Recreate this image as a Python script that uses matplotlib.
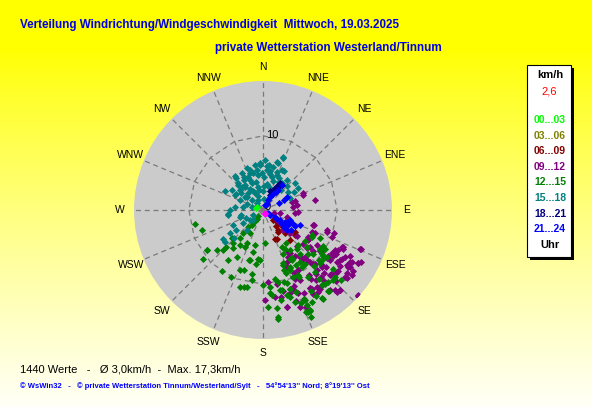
import numpy as np
import matplotlib.pyplot as plt
from matplotlib.patches import Rectangle

# wind direction (deg, N=0, clockwise) and speed (km/h), grouped by time of day
teal_dir = [2, 356, 21, 16, 13, 5, 342, 345, 330, 320, 317, 324, 337, 347, 1, 11, 20, 25, 45, 59, 50,
            21, 18, 356, 7, 350, 351, 358, 10, 21, 28, 20, 35, 38, 54, 58, 67, 339, 330, 320, 327,
            336, 337, 349, 322, 315, 303, 296, 298, 308, 319, 334, 311, 294, 264, 257, 335, 1, 8, 286,
            270, 277, 262, 254, 236, 243, 233, 235, 230, 232, 219, 243, 226, 234,
            300, 320, 340, 310, 290, 350, 5, 280, 245, 225,
            15, 3, 352, 328, 333, 312, 305, 26, 30, 42, 14, 6, 340, 318, 301]
teal_spd = [6.8, 6.3, 7.5, 6.8, 6.0, 5.9, 5.7, 5.1, 5.2, 5.6, 4.9, 4.2, 4.4, 3.9, 4.5, 5.0, 5.5, 6.0, 4.5, 4.8, 5.6,
            7.6, 6.6, 6.1, 6.1, 6.2, 5.5, 5.0, 5.3, 5.1, 5.9, 4.1, 4.4, 5.2, 4.2, 5.6, 4.0, 6.0, 5.7, 5.9, 4.8,
            4.9, 3.9, 3.2, 4.0, 4.7, 5.0, 5.7, 4.3, 3.7, 3.0, 2.5, 2.0, 3.4, 4.7, 3.0, 1.5, 2.5, 3.6, 1.6,
            4.5, 3.8, 4.7, 3.2, 3.2, 4.5, 4.5, 5.5, 6.7, 2.2, 3.5, 1.5, 5.5, 6.6,
            1.0, 1.2, 2.0, 2.8, 2.3, 2.8, 1.5, 2.7, 2.5, 2.0,
            4.6, 3.3, 4.8, 3.4, 2.9, 4.1, 3.0, 4.8, 4.3, 3.6, 3.2, 5.4, 5.3, 4.2, 4.2]

navy_dir = [32, 30, 21, 37, 25, 34, 28]
navy_spd = [4.3, 3.7, 2.7, 4.2, 2.2, 3.9, 3.2]

blue_dir = [22, 28, 28, 32, 37, 37, 61, 64, 66, 35, 30,
            125, 119, 120, 118, 121, 115, 112, 129, 130, 110, 123, 127, 117, 125, 122, 116, 114]
blue_spd = [0.7, 1.5, 2.0, 2.6, 3.4, 4.2, 3.7, 3.1, 2.3, 3.0, 1.0,
            1.2, 1.9, 2.7, 3.4, 4.0, 4.3, 5.4, 3.6, 4.2, 3.9, 2.3, 3.0, 4.8, 4.6, 0.8, 3.6, 4.5]

maroon_dir = [122, 134, 143, 154, 137, 129, 124, 157, 145, 130, 140, 138, 128]
maroon_spd = [0.9, 1.9, 3.4, 4.3, 4.3, 3.2, 5.2, 4.2, 3.6, 2.5, 2.8, 5.4, 5.5]

purple_dir = [70, 79, 84, 107, 109, 108, 115, 112, 118, 119, 123, 122, 127, 126, 128, 130, 137, 139,
              137, 138, 136, 132, 134, 136, 140, 143, 149, 154, 156, 160, 162, 166, 169, 176, 179, 168,
              159, 152, 154, 157, 148, 142, 128, 131, 135, 128, 106, 108, 126, 121, 123, 132, 127, 124,
              67, 82, 93, 75, 121, 114, 111, 119, 115, 120, 120, 118, 124, 129, 133, 134, 139, 143,
              148, 146, 138, 129, 155, 150, 142, 152, 172, 166, 101, 96, 75,
              106, 107, 114, 124, 123, 129, 131, 125, 125, 123, 118, 116, 122, 125, 127, 132, 133, 136,
              138, 138, 141, 145, 149, 155, 150, 145, 145, 140, 139, 134, 131, 126, 123, 121, 126, 129,
              119, 112, 161, 158, 157, 149, 149, 145, 144, 138, 136, 132, 166, 159, 155]
purple_spd = [5.8, 7.2, 4.1, 7.1, 9.1, 10.0, 11.9, 14.2, 13.3, 14.7, 12.4, 11.0, 10.8, 9.5, 8.1, 7.1, 6.7, 9.0,
              9.9, 10.9, 11.8, 12.8, 13.7, 15.0, 14.1, 12.9, 12.2, 12.5, 14.3, 13.0, 11.8, 11.2, 10.1, 9.7, 12.2, 12.0,
              11.6, 10.7, 9.5, 8.3, 6.9, 8.0, 5.8, 4.8, 3.9, 2.9, 3.3, 1.5, 2.3, 11.5, 14.0, 17.3, 14.2, 14.7,
              5.9, 4.6, 4.7, 4.1, 7.1, 7.7, 10.0, 11.1, 11.7, 12.7, 13.9, 14.9, 13.8, 13.0, 12.6, 11.0, 12.6, 11.8,
              12.5, 13.3, 14.5, 14.3, 10.2, 9.4, 8.5, 7.2, 11.8, 13.5, 2.3, 4.3, 4.5,
              7.1, 9.0, 7.2, 7.3, 8.7, 8.7, 7.9, 9.7, 10.7, 11.3, 11.5, 12.0, 12.5, 12.2, 11.3, 11.5, 10.9, 10.1,
              9.4, 8.5, 7.9, 7.5, 6.6, 7.7, 9.4, 10.7, 11.3, 11.2, 12.0, 12.6, 13.0, 12.9, 13.5, 13.7, 14.9, 14.5,
              14.7, 14.1, 11.2, 11.1, 12.2, 12.3, 13.2, 12.7, 13.1, 14.9, 15.0, 17.2, 13.5, 14.0, 13.2]

green_dir = [258, 252, 235, 231, 214, 206, 201, 194, 189, 187, 183, 196, 209, 215, 225, 229, 218, 213,
             206, 193, 177, 193, 225, 228, 219, 186, 190, 180, 175, 174, 177, 172, 172, 169, 163, 161,
             162, 168, 168, 170, 161, 156, 159, 156, 140, 130, 131, 125, 130, 138, 146, 155, 155, 149,
             142, 152, 146, 145, 155, 151, 175, 117, 127, 121, 126, 133, 134, 146, 152, 140, 141, 140,
             141, 155, 156, 146, 135, 150, 153, 155, 139, 172, 156, 157, 235, 197, 192, 198, 195,
             217, 220, 222, 215, 220, 219, 222, 209, 206,
             126, 119, 116, 135, 150, 149, 160, 155, 149, 144, 142, 132, 124, 122, 127, 130, 133, 132,
             138, 141, 141, 160, 156, 164, 158, 164, 167, 158, 152, 148, 146, 155, 155, 161]
green_spd = [9.4, 8.7, 9.3, 10.4, 10.0, 10.0, 8.7, 10.7, 9.6, 7.3, 6.8, 7.0, 7.2, 8.2, 7.6, 8.3, 6.5, 5.7,
             5.0, 4.9, 4.5, 5.8, 7.0, 5.7, 4.9, 6.6, 8.7, 10.1, 10.4, 11.5, 13.1, 14.6, 13.4, 12.4, 12.3, 11.2,
             10.4, 11.1, 9.9, 9.4, 8.6, 8.9, 7.7, 9.9, 7.7, 7.7, 9.0, 9.4, 10.4, 10.2, 10.9, 13.4, 14.9, 12.7,
             12.9, 10.0, 6.5, 5.5, 6.5, 7.5, 11.3, 7.4, 9.9, 9.5, 10.7, 10.5, 8.5, 9.3, 10.2, 10.9, 11.9, 13.0,
             14.1, 13.2, 15.0, 14.3, 13.4, 7.8, 5.6, 8.7, 6.9, 14.8, 15.8, 15.0, 9.3, 10.8, 10.6, 8.5, 7.0,
             2.5, 4.1, 6.0, 1.4, 1.1, 2.0, 3.0, 3.6, 5.5,
             7.0, 7.5, 8.6, 6.7, 6.0, 7.6, 7.9, 8.5, 8.7, 8.6, 9.2, 10.1, 9.3, 9.9, 10.2, 12.3, 13.3, 14.1,
             13.1, 14.0, 12.8, 9.1, 9.9, 10.1, 11.9, 11.9, 11.1, 13.6, 14.0, 13.6, 14.5, 14.1, 15.1, 13.1]

lime_dir = [293, 285]
lime_spd = [0.9, 1.0]

magenta_dir = [143, 150]
magenta_spd = [0.45, 0.6]

compass = ['N', 'NNE', 'NE', 'ENE', 'E', 'ESE', 'SE', 'SSE',
           'S', 'SSW', 'SW', 'WSW', 'W', 'WNW', 'NW', 'NNW']

legend_labels = ['00...03', '03...06', '06...09', '09...12',
                 '12...15', '15...18', '18...21', '21...24']
legend_colors = ['#00ff00', '#808000', '#800000', '#800080',
                 '#008000', '#008080', '#000080', '#0000ff']

current_speed = '2,6'
n_values = 1440
mean_speed = '3,0'
max_speed = '17,3'

plt.rcParams['font.family'] = ['Liberation Sans', 'DejaVu Sans']

W, H = 592, 407
fig = plt.figure(figsize=(W / 100, H / 100), dpi=100)


def fx(x):
    return x / W


def fy(y):
    return 1 - y / H


# yellow background fading towards the bottom
bg = fig.add_axes([0, 0, 1, 1])
yy = np.linspace(0, 1, 200)[:, None] * np.ones((1, 50))
blue_ch = np.clip((yy - 0.12) / 0.88, 0, 1) ** 0.85 * 0.97
img = np.dstack([np.ones_like(blue_ch), np.ones_like(blue_ch), blue_ch])
bg.imshow(img, aspect='auto', extent=[0, 1, 0, 1], origin='upper')
bg.set_axis_off()

# polar plot, centre at (263, 210) px, radius 129 px
rmax = 17.4
cx, cy, rad = 263, 210, 129
ax = fig.add_axes([fx(cx - rad), fy(cy + rad), 2 * rad / W, 2 * rad / H], projection='polar')
ax.set_theta_zero_location('N')
ax.set_theta_direction(-1)
ax.set_ylim(0, rmax)
ax.set_facecolor('#cbcbcb')
ax.grid(False)
ax.set_xticks([])
ax.set_yticks([])
ax.spines['polar'].set_visible(False)

spokes = np.radians(np.arange(0, 360, 22.5))
for t in spokes:
    ax.plot([t, t], [0, rmax], color='#7a7a7a', lw=0.9, ls=(0, (4, 3)), zorder=1)

# ring at 10 km/h drawn as a 16-sided polygon
ring_t = np.linspace(0, 2 * np.pi, 721)
seg = np.pi / 8
rel = (ring_t % seg) - seg / 2
ring_r = 10 * np.cos(seg / 2) / np.cos(rel)
ax.plot(ring_t, ring_r, color='#7a7a7a', lw=0.9, ls=(0, (4, 3)), zorder=1)

ax.text(np.radians(7), 10.2, '10', fontsize=8, ha='center', va='center', zorder=2)
ax.text(np.radians(55), 0.8, '0', fontsize=8, ha='center', va='center', zorder=2)

for i, name in enumerate(compass):
    ax.text(np.radians(i * 22.5), 19.3, name, fontsize=7.5, ha='center', va='center', clip_on=False)

groups = [
    (maroon_dir, maroon_spd, '#800000'),
    (purple_dir, purple_spd, '#800080'),
    (green_dir, green_spd, '#008000'),
    (teal_dir, teal_spd, '#008080'),
    (navy_dir, navy_spd, '#000080'),
    (blue_dir, blue_spd, '#0000ff'),
    (lime_dir, lime_spd, '#00ff00'),
    (magenta_dir, magenta_spd, '#ff00ff'),
]
for d, s, c in groups:
    ax.scatter(np.radians(d), s, marker='D', s=13, c=c, linewidths=0, zorder=3)

# titles
fig.text(fx(20), fy(25), 'Verteilung Windrichtung/Windgeschwindigkeit  Mittwoch, 19.03.2025',
         color='#0000e6', fontsize=8.4, fontweight='bold', ha='left', va='center')
fig.text(fx(215), fy(48), 'private Wetterstation Westerland/Tinnum',
         color='#0000e6', fontsize=8.4, fontweight='bold', ha='left', va='center')

# legend box with shadow
bx0, by0, bx1, by1 = 527, 65, 571, 257
fig.add_artist(Rectangle((fx(bx0 + 3), fy(by1 + 3)), (bx1 - bx0) / W, (by1 - by0) / H,
                         transform=fig.transFigure, facecolor='black', edgecolor='none'))
fig.add_artist(Rectangle((fx(bx0), fy(by1)), (bx1 - bx0) / W, (by1 - by0) / H,
                         transform=fig.transFigure, facecolor='white', edgecolor='black', lw=0.8))
fig.text(fx(550), fy(75), 'km/h', fontsize=8, fontweight='bold', ha='center', va='center')
fig.text(fx(557), fy(92), current_speed, fontsize=8, color='red', ha='right', va='center')
for i, (lab, col) in enumerate(zip(legend_labels, legend_colors)):
    fig.text(fx(550), fy(120 + i * 15.6), lab, fontsize=7.5, fontweight='bold', color=col,
             ha='center', va='center')
fig.text(fx(550), fy(245), 'Uhr', fontsize=8, fontweight='bold', ha='center', va='center')

# footer
fig.text(fx(20), fy(369), f'{n_values} Werte   -   Ø {mean_speed}km/h  -  Max. {max_speed}km/h',
         fontsize=8, ha='left', va='center')
fig.text(fx(20), fy(386), "© WsWin32   -   © private Wetterstation Tinnum/Westerland/Sylt   -   "
         "54°54'13'' Nord; 8°19'13'' Ost",
         fontsize=5.5, fontweight='bold', color='#0000ff', ha='left', va='center')

fig.savefig('out.png', dpi=100)
